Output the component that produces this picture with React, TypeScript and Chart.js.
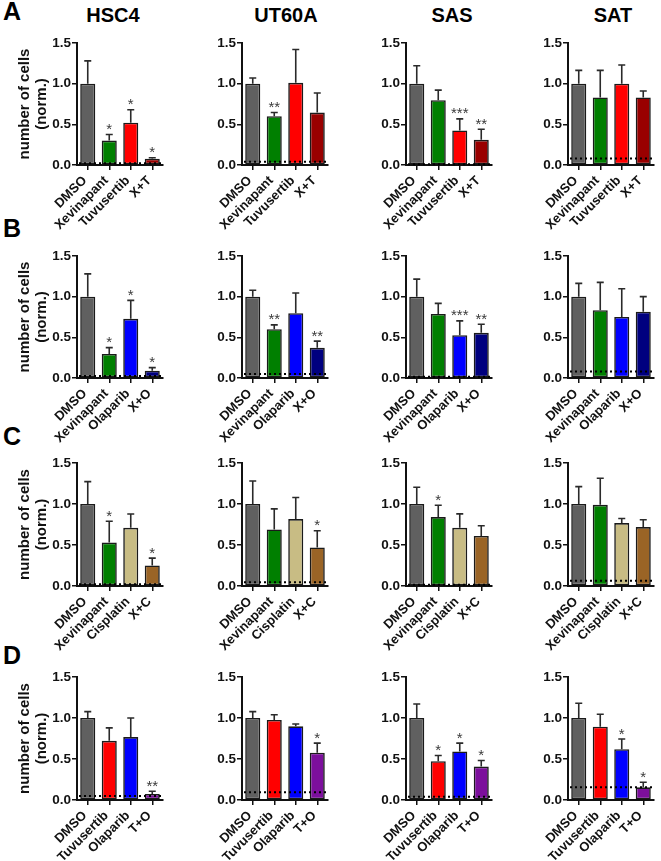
import React, { useEffect, useRef } from 'react';
import { Chart, registerables } from 'chart.js';

Chart.register(...registerables);

const FONT = '"Liberation Sans", Arial, Helvetica, sans-serif';

// Cell lines (columns) and panel letters (rows)
const cellLines = ['HSC4', 'UT60A', 'SAS', 'SAT'];
const panelLetters = ['A', 'B', 'C', 'D'];

// Treatments per row
const categoriesA = ['DMSO', 'Xevinapant', 'Tuvusertib', 'X+T'];
const categoriesB = ['DMSO', 'Xevinapant', 'Olaparib', 'X+O'];
const categoriesC = ['DMSO', 'Xevinapant', 'Cisplatin', 'X+C'];
const categoriesD = ['DMSO', 'Tuvusertib', 'Olaparib', 'T+O'];

const colorsA = ['#606060', '#007f00', '#ff0000', '#990000'];
const colorsB = ['#606060', '#007f00', '#0000ff', '#00007f'];
const colorsC = ['#606060', '#007f00', '#c8bc84', '#9a6426'];
const colorsD = ['#606060', '#ff0000', '#0000ff', '#7c0f9c'];

// Normalised cell numbers, one array per cell line: HSC4, UT60A, SAS, SAT
const meansA = [
  [1.0, 0.3, 0.52, 0.078],
  [1.0, 0.6, 1.01, 0.645],
  [1.0, 0.796, 0.425, 0.31],
  [1.0, 0.83, 1.0, 0.83],
];
const sdA = [
  [0.28, 0.075, 0.16, 0.012],
  [0.07, 0.045, 0.41, 0.24],
  [0.22, 0.124, 0.142, 0.13],
  [0.163, 0.333, 0.23, 0.08],
];
const starsA = [
  ['', '*', '*', '*'],
  ['', '**', '', ''],
  ['', '', '***', '**'],
  ['', '', '', ''],
];
const cutoffA = [0.02, 0.04, 0.01, 0.08];

const meansB = [
  [1.0, 0.296, 0.728, 0.09],
  [1.0, 0.6, 0.796, 0.371],
  [1.0, 0.788, 0.527, 0.555],
  [1.0, 0.833, 0.751, 0.816],
];
const sdB = [
  [0.28, 0.078, 0.227, 0.038],
  [0.078, 0.053, 0.249, 0.082],
  [0.216, 0.13, 0.175, 0.106],
  [0.163, 0.343, 0.347, 0.184],
];
const starsB = [
  ['', '*', '*', '*'],
  ['', '**', '', '**'],
  ['', '', '***', '**'],
  ['', '', '', ''],
];
const cutoffB = [0.025, 0.05, 0.015, 0.08];

const meansC = [
  [1.0, 0.53, 0.71, 0.25],
  [1.0, 0.69, 0.816, 0.47],
  [1.0, 0.84, 0.71, 0.61],
  [1.0, 0.99, 0.767, 0.718],
];
const sdC = [
  [0.273, 0.26, 0.168, 0.09],
  [0.28, 0.25, 0.264, 0.203],
  [0.204, 0.144, 0.17, 0.125],
  [0.212, 0.324, 0.057, 0.09],
];
const starsC = [
  ['', '*', '', '*'],
  ['', '', '', '*'],
  ['', '*', '', ''],
  ['', '', '', ''],
];
const cutoffC = [0.02, 0.045, 0.015, 0.065];

const meansD = [
  [1.0, 0.722, 0.767, 0.073],
  [1.0, 0.976, 0.898, 0.576],
  [1.0, 0.473, 0.592, 0.408],
  [1.0, 0.894, 0.62, 0.155],
];
const sdD = [
  [0.078, 0.158, 0.233, 0.033],
  [0.078, 0.064, 0.029, 0.118],
  [0.171, 0.07, 0.102, 0.074],
  [0.18, 0.151, 0.123, 0.061],
];
const starsD = [
  ['', '', '', '**'],
  ['', '', '', '*'],
  ['', '*', '*', '*'],
  ['', '', '*', '*'],
];
const cutoffD = [0.05, 0.095, 0.04, 0.155];

const yTickLabels = ['0.0', '0.5', '1.0', '1.5'];
const yTitle = ['number of cells', '(norm.)'];

const rows = [
  { categories: categoriesA, colors: colorsA, means: meansA, sd: sdA, stars: starsA, cutoff: cutoffA },
  { categories: categoriesB, colors: colorsB, means: meansB, sd: sdB, stars: starsB, cutoff: cutoffB },
  { categories: categoriesC, colors: colorsC, means: meansC, sd: sdC, stars: starsC, cutoff: cutoffC },
  { categories: categoriesD, colors: colorsD, means: meansD, sd: sdD, stars: starsD, cutoff: cutoffD },
];

// Page geometry
const AXIS_X = [77, 242, 406, 568];
const PLOT_TOP = [43, 256, 463, 677];
const PLOT_BOTTOM = [165, 378, 586, 800];
const PLOT_W = 86;
const Y_BOX = 80;
const X_BOX = 75;
const PAD_TOP = 10;
const PAD_RIGHT = 10;
const TITLE_X = [113, 286, 452, 613];
const LETTER_TOP = [-1, 216, 424, 643];

function Panel({ row, col }: { row: number; col: number }) {
  const ref = useRef<HTMLCanvasElement>(null);
  const plotH = PLOT_BOTTOM[row] - PLOT_TOP[row];
  const width = Y_BOX + PLOT_W + PAD_RIGHT;
  const height = PAD_TOP + plotH + X_BOX;

  useEffect(() => {
    const r = rows[row];
    const means = r.means[col];
    const sd = r.sd[col];
    const stars = r.stars[col];
    const cutoff = r.cutoff[col];

    const overlay = {
      id: 'errorBarsAndMarks',
      afterDatasetsDraw(chart: any) {
        const ctx = chart.ctx;
        const y = chart.scales.y;
        const area = chart.chartArea;
        const meta = chart.getDatasetMeta(0);
        ctx.save();
        meta.data.forEach((bar: any, i: number) => {
          const base = y.getPixelForValue(means[i]);
          const top = y.getPixelForValue(means[i] + sd[i]);
          ctx.strokeStyle = '#2a2a2a';
          ctx.lineWidth = 1.6;
          ctx.beginPath();
          ctx.moveTo(bar.x, base);
          ctx.lineTo(bar.x, top);
          ctx.moveTo(bar.x - 3.5, top);
          ctx.lineTo(bar.x + 3.5, top);
          ctx.stroke();
          if (stars[i]) {
            ctx.fillStyle = '#3a3a3a';
            ctx.font = `15px ${FONT}`;
            ctx.textAlign = 'center';
            ctx.textBaseline = 'alphabetic';
            ctx.fillText(stars[i], bar.x, top - 0.5);
          }
        });
        // dotted threshold line
        const cy = y.getPixelForValue(cutoff);
        ctx.strokeStyle = '#000';
        ctx.lineWidth = 2;
        ctx.setLineDash([2, 3]);
        ctx.beginPath();
        ctx.moveTo(area.left + 2, cy);
        ctx.lineTo(area.right, cy);
        ctx.stroke();
        ctx.restore();
      },
    };

    const chart = new Chart(ref.current as HTMLCanvasElement, {
      type: 'bar',
      data: {
        labels: r.categories,
        datasets: [
          {
            data: means,
            backgroundColor: r.colors,
            borderColor: '#1a1a1a',
            borderWidth: 1.6,
            borderSkipped: false,
            barPercentage: 0.7,
            categoryPercentage: 1.0,
          },
        ],
      },
      options: {
        responsive: false,
        animation: false,
        devicePixelRatio: 1,
        layout: { padding: { top: PAD_TOP, right: PAD_RIGHT, left: 0, bottom: 0 } },
        plugins: { legend: { display: false }, tooltip: { enabled: false } },
        scales: {
          x: {
            offset: true,
            afterFit: (s: any) => {
              s.height = X_BOX;
            },
            grid: {
              offset: false,
              drawOnChartArea: false,
              drawTicks: true,
              tickLength: 5,
              color: '#111',
              lineWidth: 1.5,
            },
            border: { display: true, color: '#111', width: 2 },
            ticks: {
              autoSkip: false,
              minRotation: 45,
              maxRotation: 45,
              padding: 3,
              labelOffset: -3,
              color: '#111',
              font: { family: FONT, size: 13, weight: 'bold' },
            },
          },
          y: {
            min: 0,
            max: 1.5,
            afterFit: (s: any) => {
              s.width = Y_BOX;
            },
            grid: {
              drawOnChartArea: false,
              drawTicks: true,
              tickLength: 5,
              color: '#111',
              lineWidth: 1.5,
            },
            border: { display: true, color: '#111', width: 2 },
            ticks: {
              stepSize: 0.5,
              padding: 1,
              color: '#111',
              font: { family: FONT, size: 13.5, weight: 'bold' },
              callback: (_v: any, i: number) => yTickLabels[i],
            },
            title: {
              display: col === 0,
              text: yTitle,
              color: '#111',
              font: { family: FONT, size: 15, weight: 'bold', lineHeight: 1.15 },
              padding: { top: 19, bottom: 0 },
            },
          },
        },
      },
      plugins: [overlay],
    } as any);
    return () => chart.destroy();
  }, [row, col]);

  return (
    <canvas
      ref={ref}
      width={width}
      height={height}
      style={{
        position: 'absolute',
        left: AXIS_X[col] - Y_BOX,
        top: PLOT_TOP[row] - PAD_TOP,
        width,
        height,
      }}
    />
  );
}

export default function App() {
  return (
    <div
      style={{
        position: 'absolute',
        left: 0,
        top: 0,
        width: 661,
        height: 861,
        overflow: 'hidden',
        background: '#fff',
        fontFamily: FONT,
      }}
    >
      {cellLines.map((name, c) => (
        <div
          key={name}
          style={{
            position: 'absolute',
            left: TITLE_X[c] - 60,
            top: 5,
            width: 120,
            textAlign: 'center',
            fontSize: 20,
            lineHeight: '20px',
            fontWeight: 'bold',
            color: '#000',
          }}
        >
          {name}
        </div>
      ))}
      {panelLetters.map((letter, r) => (
        <div
          key={letter}
          style={{
            position: 'absolute',
            left: 3,
            top: LETTER_TOP[r],
            fontSize: 25,
            lineHeight: '25px',
            fontWeight: 'bold',
            color: '#000',
          }}
        >
          {letter}
        </div>
      ))}
      {rows.map((_, r) =>
        cellLines.map((__, c) => <Panel key={`${r}-${c}`} row={r} col={c} />)
      )}
    </div>
  );
}
